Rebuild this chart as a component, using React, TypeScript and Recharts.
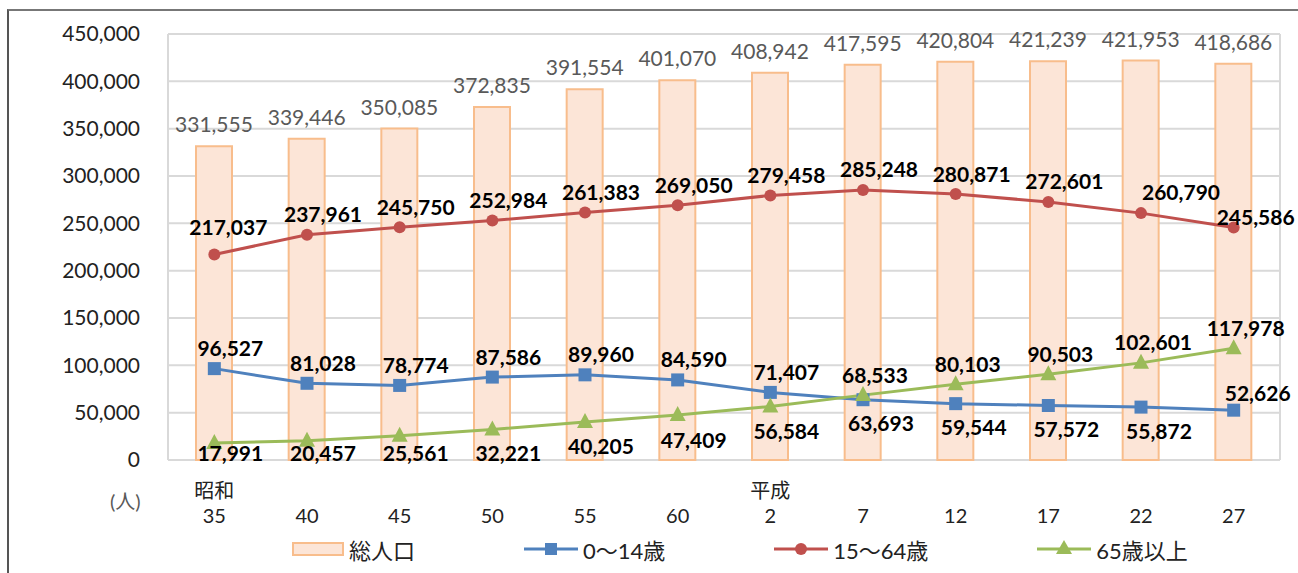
import React from 'react';
import {
  ComposedChart,
  Bar,
  Line,
  XAxis,
  YAxis,
  CartesianGrid,
  LabelList,
} from 'recharts';

// 年（和暦）
const eras = ['昭和', '', '', '', '', '', '平成', '', '', '', '', ''];
const years = ['35', '40', '45', '50', '55', '60', '2', '7', '12', '17', '22', '27'];

// 人口（人）
const total = [331555, 339446, 350085, 372835, 391554, 401070, 408942, 417595, 420804, 421239, 421953, 418686];
const age0to14 = [96527, 81028, 78774, 87586, 89960, 84590, 71407, 63693, 59544, 57572, 55872, 52626];
const age15to64 = [217037, 237961, 245750, 252984, 261383, 269050, 279458, 285248, 280871, 272601, 260790, 245586];
const age65plus = [17991, 20457, 25561, 32221, 40205, 47409, 56584, 68533, 80103, 90503, 102601, 117978];

const yTicks = [0, 50000, 100000, 150000, 200000, 250000, 300000, 350000, 400000, 450000];

const data = years.map((year, i) => ({
  year,
  era: eras[i],
  total: total[i],
  young: age0to14[i],
  working: age15to64[i],
  elderly: age65plus[i],
}));

const FONT = 'Lato, "Noto Sans CJK JP", sans-serif';
const BLUE = '#4F81BD';
const RED = '#C0504D';
const GREEN = '#9BBB59';
const BAR_FILL = '#FCE5D7';
const BAR_STROKE = '#F8BD8C';

const W = 1298;
const H = 573;
const MARGIN = { top: 34, right: 18, bottom: 53, left: 0 };
const X_AXIS_H = 60;
const PLOT_BOTTOM = H - MARGIN.bottom - X_AXIS_H;

const fmt = (v: number) => v.toLocaleString('en-US');

function XTick(props: any) {
  const { x, y, payload, index } = props;
  return (
    <g>
      {eras[index] ? (
        <text x={x} y={y + 30} textAnchor="middle" dominantBaseline="central" fontSize={20} fill="#222" fontFamily={FONT}>
          {eras[index]}
        </text>
      ) : null}
      <text x={x} y={y + 55} textAnchor="middle" dominantBaseline="central" fontSize={20} fill="#222" fontFamily={FONT}>
        {payload.value}
      </text>
    </g>
  );
}

function boldLabel(place: (i: number, x: number, y: number) => [number, number]) {
  return (props: any) => {
    const { x, y, value, index } = props;
    const [lx, ly] = place(index, x, y);
    return (
      <text
        key={`l-${index}`}
        x={lx}
        y={ly}
        textAnchor="middle"
        dominantBaseline="central"
        fontSize={21}
        fontWeight={700}
        fill="#000"
        fontFamily={FONT}
      >
        {fmt(value)}
      </text>
    );
  };
}

const workingLabel = boldLabel((i, x, y) => {
  if (i === years.length - 1) return [x + 22, y - 11];
  if (i === 10) return [x + 40, y - 22];
  if (i === 0) return [x + 14, y - 28];
  return [x + 16, y - 21];
});

const youngLabel = boldLabel((i, x, y) => {
  if (i >= 7 && i <= 10) return [x + 18, y + 23];
  if (i === years.length - 1) return [x + 24, y - 18];
  return [x + 16, y - 21];
});

const elderlyLabel = boldLabel((i, x, y) => {
  if (i < 7) return [x + 16, Math.min(y + 24, PLOT_BOTTOM - 8)];
  return [x + 12, y - 21];
});

function SquareDot(props: any) {
  const { cx, cy, index } = props;
  return <rect key={`s-${index}`} x={cx - 6.5} y={cy - 6.5} width={13} height={13} fill={BLUE} />;
}

function TriangleDot(props: any) {
  const { cx, cy, index } = props;
  return (
    <polygon
      key={`t-${index}`}
      points={`${cx},${cy - 9} ${cx - 8},${cy + 6} ${cx + 8},${cy + 6}`}
      fill={GREEN}
    />
  );
}

function LegendIcon({ kind }: { kind: string }) {
  if (kind === 'bar') {
    return (
      <svg width={52} height={16}>
        <rect x={1} y={2} width={50} height={12} fill={BAR_FILL} stroke={BAR_STROKE} strokeWidth={2} />
      </svg>
    );
  }
  const color = kind === 'square' ? BLUE : kind === 'circle' ? RED : GREEN;
  return (
    <svg width={54} height={20}>
      <line x1={0} y1={10} x2={54} y2={10} stroke={color} strokeWidth={3} />
      {kind === 'square' && <rect x={21} y={4} width={12} height={12} fill={color} />}
      {kind === 'circle' && <circle cx={27} cy={10} r={6} fill={color} />}
      {kind === 'triangle' && <polygon points="27,1 19,15 35,15" fill={color} />}
    </svg>
  );
}

const legendItems = [
  { kind: 'bar', label: '総人口' },
  { kind: 'square', label: '0〜14歳' },
  { kind: 'circle', label: '15〜64歳' },
  { kind: 'triangle', label: '65歳以上' },
];

export default function App() {
  return (
    <div style={{ position: 'absolute', left: 0, top: 0, width: W, height: H, background: '#fff', fontFamily: FONT }}>
      <div
        style={{
          position: 'absolute',
          left: 7,
          top: 9,
          width: W,
          height: H,
          borderLeft: '2px solid #555',
          borderTop: '2px solid #777',
        }}
      />
      <ComposedChart width={W} height={H} data={data} margin={MARGIN}>
        <CartesianGrid
          stroke="#D9D9D9"
          strokeWidth={2}
          verticalPoints={[168, W - MARGIN.right]}
        />
        <XAxis
          dataKey="year"
          height={X_AXIS_H}
          axisLine={false}
          tickLine={false}
          tickSize={0}
          tickMargin={0}
          interval={0}
          tick={<XTick />}
        />
        <YAxis
          width={168}
          domain={[0, 450000]}
          ticks={yTicks}
          axisLine={false}
          tickLine={false}
          tickSize={0}
          tickMargin={28}
          tickFormatter={fmt}
          tick={{ fontSize: 21, fill: '#222', fontFamily: FONT }}
        />
        <Bar dataKey="total" barSize={36} fill={BAR_FILL} stroke={BAR_STROKE} strokeWidth={2} isAnimationActive={false}>
          <LabelList
            dataKey="total"
            position="top"
            offset={14}
            formatter={(v: any) => fmt(v)}
            style={{ fontSize: 21, fill: '#595959', fontFamily: FONT }}
          />
        </Bar>
        <Line dataKey="working" stroke={RED} strokeWidth={3} dot={{ r: 6, fill: RED, stroke: RED, strokeWidth: 0 }} activeDot={false} isAnimationActive={false}>
          <LabelList dataKey="working" content={workingLabel} />
        </Line>
        <Line dataKey="young" stroke={BLUE} strokeWidth={3} dot={<SquareDot />} activeDot={false} isAnimationActive={false}>
          <LabelList dataKey="young" content={youngLabel} />
        </Line>
        <Line dataKey="elderly" stroke={GREEN} strokeWidth={3} dot={<TriangleDot />} activeDot={false} isAnimationActive={false}>
          <LabelList dataKey="elderly" content={elderlyLabel} />
        </Line>
      </ComposedChart>
      <div
        style={{
          position: 'absolute',
          left: 110,
          top: 486,
          fontSize: 20,
          color: '#595959',
        }}
      >
        (人)
      </div>
      <div
        style={{
          position: 'absolute',
          left: 292,
          top: 533,
          display: 'flex',
          alignItems: 'center',
          gap: 109,
          fontSize: 22,
          color: '#222',
        }}
      >
        {legendItems.map((it) => (
          <div key={it.label} style={{ display: 'flex', alignItems: 'center', gap: 5 }}>
            <LegendIcon kind={it.kind} />
            <span>{it.label}</span>
          </div>
        ))}
      </div>
    </div>
  );
}
